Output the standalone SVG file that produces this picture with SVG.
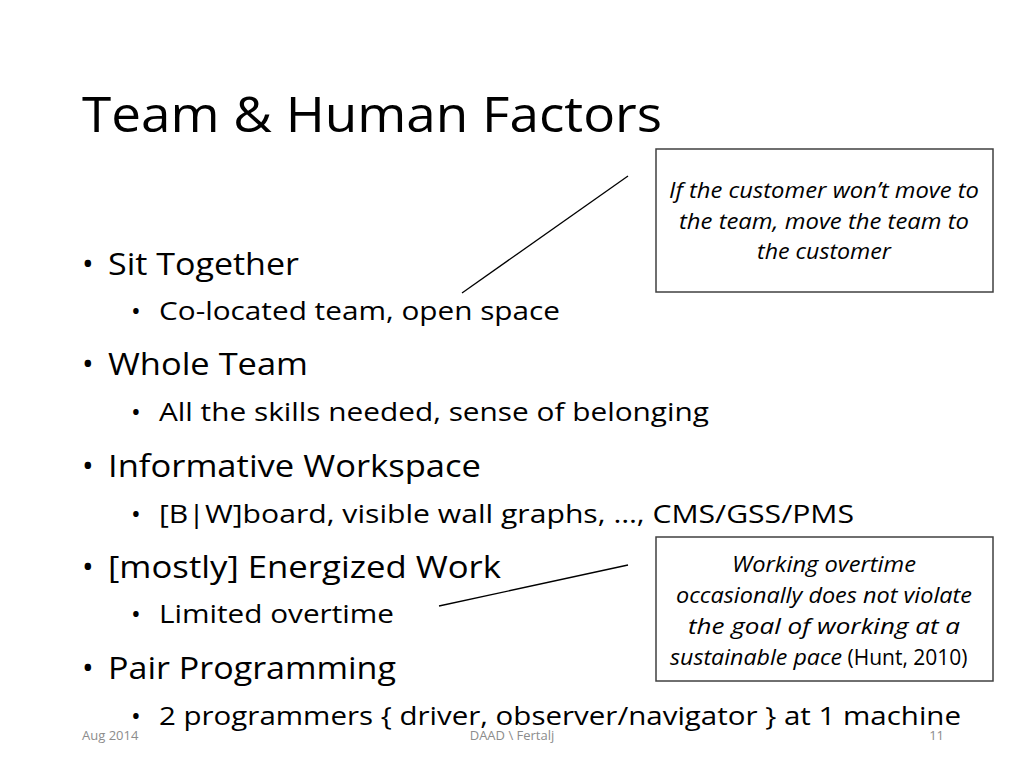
<svg xmlns="http://www.w3.org/2000/svg" width="1024" height="768" viewBox="0 0 1024 768">
<style>
text{font-family:"Open Sans","Liberation Sans",sans-serif;fill:#000}
.t{font-size:50px}
.l1{font-size:31px}
.l2{font-size:26px}
.b{font-size:21px;font-style:italic}
.f{font-size:13px;fill:#8c8c8c}
.box{fill:#fff;stroke:#404040;stroke-width:1.5}
.c{stroke:#000;stroke-width:1.3;fill:none}
</style>
<rect width="1024" height="768" fill="#fff"/>
<g id="title"><text class="t" x="82" y="132" textLength="580" lengthAdjust="spacingAndGlyphs">Team &amp; Human Factors</text></g>
<g id="bullets">
<text class="l1" x="82" y="275">•</text><text class="l1" x="108" y="275" textLength="191" lengthAdjust="spacingAndGlyphs">Sit Together</text>
<text class="l2" x="131" y="320">•</text><text class="l2" x="159" y="320" textLength="401" lengthAdjust="spacingAndGlyphs">Co-located team, open space</text>
<text class="l1" x="82" y="375">•</text><text class="l1" x="108" y="375" textLength="200" lengthAdjust="spacingAndGlyphs">Whole Team</text>
<text class="l2" x="131" y="421">•</text><text class="l2" x="159" y="421" textLength="550" lengthAdjust="spacingAndGlyphs">All the skills needed, sense of belonging</text>
<text class="l1" x="82" y="477">•</text><text class="l1" x="108" y="477" textLength="373" lengthAdjust="spacingAndGlyphs">Informative Workspace</text>
<text class="l2" x="131" y="523">•</text><text class="l2" x="159" y="523" textLength="695" lengthAdjust="spacingAndGlyphs">[B|W]board, visible wall graphs, …, CMS/GSS/PMS</text>
<text class="l1" x="82" y="578">•</text><text class="l1" x="108" y="578" textLength="393" lengthAdjust="spacingAndGlyphs">[mostly] Energized Work</text>
<text class="l2" x="131" y="623">•</text><text class="l2" x="159" y="623" textLength="235" lengthAdjust="spacingAndGlyphs">Limited overtime</text>
<text class="l1" x="82" y="679">•</text><text class="l1" x="108" y="679" textLength="288" lengthAdjust="spacingAndGlyphs">Pair Programming</text>
<text class="l2" x="131" y="725">•</text><text class="l2" x="159" y="725" textLength="802" lengthAdjust="spacingAndGlyphs">2 programmers { driver, observer/navigator } at 1 machine</text>
</g>
<g id="connectors">
<line class="c" x1="628" y1="176" x2="462" y2="293"/>
<line class="c" x1="628" y1="565" x2="439" y2="606"/>
</g>
<g id="callout1">
<rect class="box" x="656" y="149" width="337" height="143"/>
<text class="b" x="824" y="198" text-anchor="middle" textLength="310" lengthAdjust="spacingAndGlyphs">If the customer won’t move to</text>
<text class="b" x="824" y="229" text-anchor="middle" textLength="290" lengthAdjust="spacingAndGlyphs">the team, move the team to</text>
<text class="b" x="824" y="259" text-anchor="middle" textLength="134" lengthAdjust="spacingAndGlyphs">the customer</text>
</g>
<g id="callout2">
<rect class="box" x="656" y="537" width="337" height="144"/>
<text class="b" x="824" y="572" text-anchor="middle" textLength="184" lengthAdjust="spacingAndGlyphs">Working overtime</text>
<text class="b" x="824" y="603" text-anchor="middle" textLength="296" lengthAdjust="spacingAndGlyphs">occasionally does not violate</text>
<text class="b" x="824" y="634" text-anchor="middle" textLength="272" lengthAdjust="spacingAndGlyphs">the goal of working at a</text>
<text class="b" x="670" y="665"><tspan textLength="172" lengthAdjust="spacingAndGlyphs">sustainable pace</tspan><tspan font-style="normal"> (Hunt, 2010)</tspan></text>
</g>
<g id="footer">
<text class="f" x="82" y="740">Aug 2014</text>
<text class="f" x="512" y="740" text-anchor="middle">DAAD \ Fertalj</text>
<text class="f" x="944" y="740" text-anchor="end">11</text>
</g>
</svg>
